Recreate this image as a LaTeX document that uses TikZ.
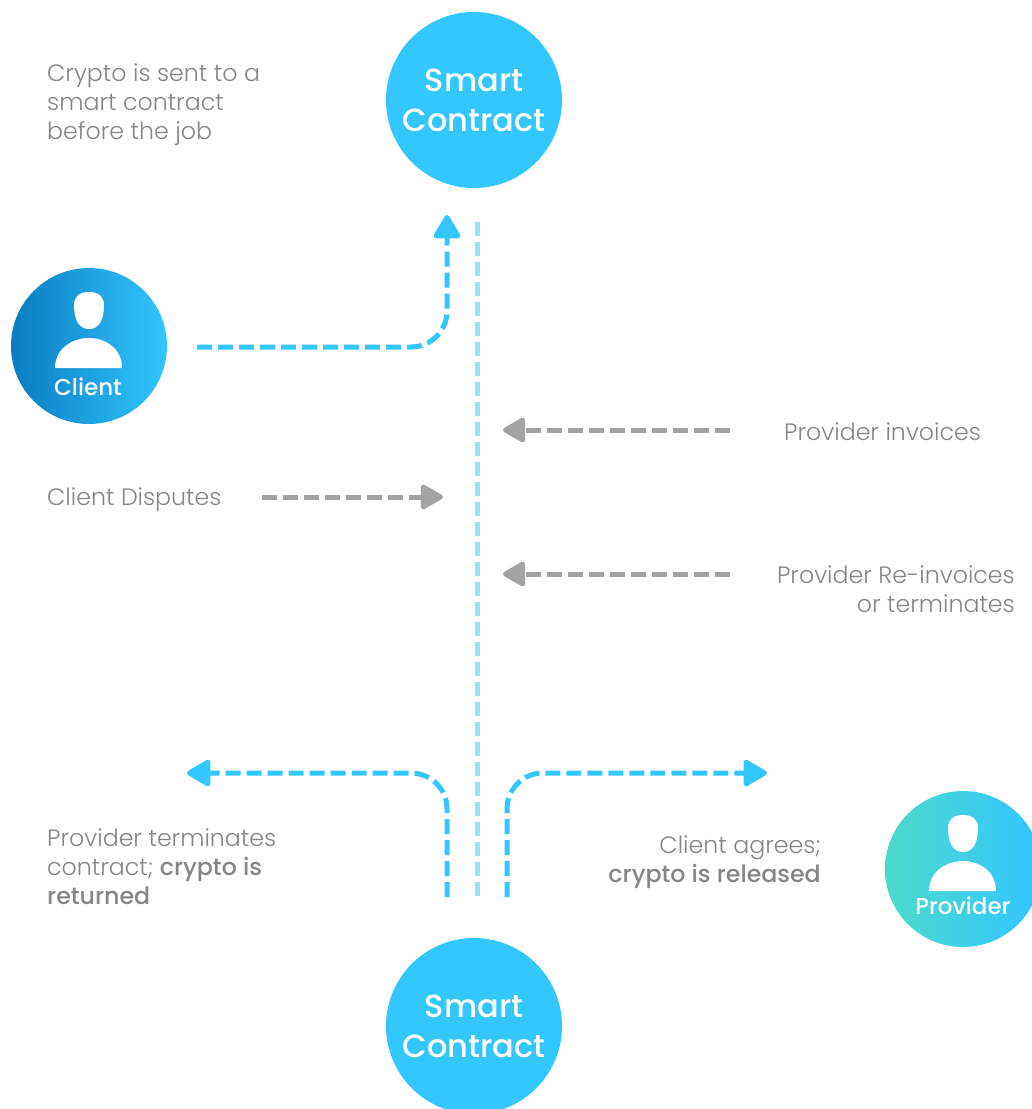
\documentclass[tikz,border=0pt]{standalone}
\usepackage{fontspec}
\setmainfont{Poppins}[UprightFont=* Light,BoldFont=* Medium]
\newfontfamily\badgefont{Poppins}[UprightFont=* Medium]
\usetikzlibrary{arrows.meta}
\definecolor{skyblue}{HTML}{33C6FF}
\definecolor{paleblue}{HTML}{98E4F2}
\definecolor{deepblue}{HTML}{0A7CC0}
\definecolor{teal}{HTML}{4DD9CB}
\definecolor{flowgray}{HTML}{A3A3A3}
\definecolor{labelgray}{HTML}{858585}
\tikzset{
	bigcircle/.style={circle,fill=skyblue,minimum size=176pt,inner sep=0pt,text=white,align=center,font=\badgefont\fontsize{32}{40}\selectfont},
	usercircle/.style={circle,minimum size=156pt,inner sep=0pt},
	usertext/.style={text=white,font=\badgefont\fontsize{23}{27}\selectfont},
	label/.style={text=labelgray,inner sep=0pt,font=\fontsize{23.7}{29}\selectfont},
	flow/.style={line width=5pt,skyblue,dash pattern=on 15pt off 6pt,-{Triangle[round,length=26pt,width=29pt]}},
	grayflow/.style={line width=5pt,flowgray,dash pattern=on 15pt off 6pt,-{Triangle[round,length=25pt,width=27pt]}},
	midline/.style={line width=5pt,paleblue,dash pattern=on 14pt off 6pt},
	pics/person/.style={code={
		\fill[white] (0,-54) .. controls (10,-54) and (15,-49) .. (15,-41) .. controls (15,-28) and (11,-17) .. (0,-17) .. controls (-11,-17) and (-15,-28) .. (-15,-41) .. controls (-15,-49) and (-10,-54) .. (0,-54) -- cycle;
		\fill[white] (-34,22) .. controls (-34,2) and (-16,-8) .. (0,-8) .. controls (16,-8) and (33,2) .. (33,22) -- cycle;
	}},
}
\begin{document}
\begin{tikzpicture}[x=1pt,y=-1pt]
	\useasboundingbox (0,0) rectangle (1032,1109);
	% circles
	\node [bigcircle] (top) at (474,100) {Smart\\Contract};
	\node [bigcircle] (bottom) at (474,1026) {Smart\\Contract};
	\node [usercircle,left color=deepblue,right color=skyblue] (client) at (89,346) {};
	\node [usercircle,left color=teal,right color=skyblue] (provider) at (963,869) {};
	\pic at (client.center) {person};
	\pic at (provider.center) {person};
	\node [usertext] (clientname) at (88,387) {Client};
	\node [usertext] (providername) at (963,906) {Provider};
	% end points
	\coordinate (midtop) at (477,222);
	\coordinate (midend) at (477,897);
	\coordinate (sendstart) at (197,347);
	\coordinate (sendend) at (447,215);
	\coordinate (invoicestart) at (730,430);
	\coordinate (invoiceend) at (503,430);
	\coordinate (disputestart) at (262,497);
	\coordinate (disputeend) at (443,497);
	\coordinate (reinvoicestart) at (730,574);
	\coordinate (reinvoiceend) at (503,574);
	\coordinate (returnstart) at (447,897);
	\coordinate (returnend) at (187,773);
	\coordinate (releasestart) at (507,897);
	\coordinate (releaseend) at (767,773);
	% connectors
	\draw [midline] (midtop) -- (midend);
	\draw [flow,rounded corners=36pt] (sendstart) -| (sendend);
	\draw [grayflow] (invoicestart) -- (invoiceend);
	\draw [grayflow] (disputestart) -- (disputeend);
	\draw [grayflow] (reinvoicestart) -- (reinvoiceend);
	\draw [flow,rounded corners=36pt] (returnstart) |- (returnend);
	\draw [flow,rounded corners=36pt] (releasestart) |- (releaseend);
	% labels
	\node [label,anchor=west,align=left] (sendtext) at (47,105) {Crypto is sent to a\\smart contract\\before the job};
	\node [label,anchor=west] (disputetext) at (47,500) {Client Disputes};
	\node [label,anchor=west] (invoicetext) at (784,432) {Provider invoices};
	\node [label,anchor=east,align=right] (reinvoicetext) at (1015,589) {Provider Re-invoices\\or terminates};
	\node [label,anchor=west,align=left] (returntext) at (47,867) {Provider terminates\\contract; \textbf{crypto is}\\\textbf{returned}};
	\node [label,anchor=east,align=right] (releasetext) at (821,862) {Client agrees;\\\textbf{crypto is released}};
\end{tikzpicture}
\end{document}
